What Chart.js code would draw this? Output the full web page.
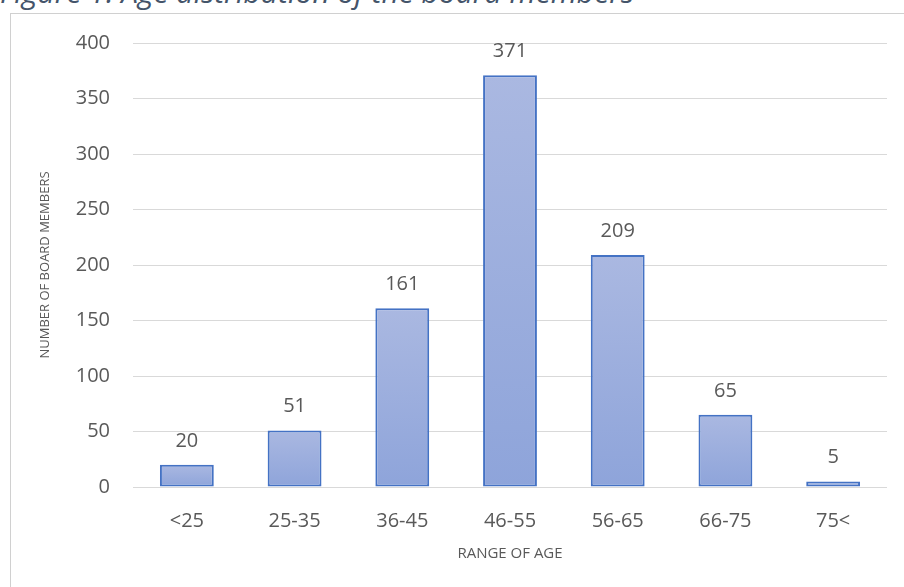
<!DOCTYPE html>
<html>
<head>
<meta charset="utf-8">
<script src="https://cdn.jsdelivr.net/npm/chart.js@4/dist/chart.umd.min.js"></script>
<style>
    html, body { margin: 0; padding: 0; background: #fff; overflow: hidden; }
    #wrap { position: relative; width: 904px; height: 587px; }
    #frame {
        position: absolute; left: 10px; top: 13px; width: 910px; height: 600px;
        border: 1px solid #d0d0d0; box-sizing: border-box;
    }
    #fig-title {
        position: absolute; left: 0; top: -28px; white-space: nowrap;
        font-family: "Open Sans", sans-serif; font-style: italic;
        font-size: 30px; line-height: 1.362; color: #44546A;
    }
    #chart { position: absolute; left: 0; top: 0; }
</style>
</head>
<body>
<div id="wrap">
    <div id="frame"></div>
    <div id="fig-title">Figure 1: Age distribution of the board members</div>
    <canvas id="chart" width="904" height="587"></canvas>
</div>
<script>
// Datos del gráfico
const ageRanges = ['<25', '25-35', '36-45', '46-55', '56-65', '66-75', '75<'];
const boardMembers = [20, 51, 161, 371, 209, 65, 5];
const yTicks = [0, 50, 100, 150, 200, 250, 300, 350, 400];

const FONT = '"Open Sans", sans-serif';
const GREY = '#595959';

// Degradado vertical por barra (más claro arriba)
function barGradient(context) {
    const chart = context.chart;
    const yScale = chart.scales.y;
    if (!yScale || !chart.chartArea) {
        return '#9daedd';
    }
    const value = context.raw || 0;
    const top = yScale.getPixelForValue(value);
    const bottom = yScale.getPixelForValue(0);
    const g = chart.ctx.createLinearGradient(0, top, 0, bottom);
    g.addColorStop(0, '#aab8e1');
    g.addColorStop(1, '#8ea4da');
    return g;
}

// Etiquetas de valor encima de cada barra
const valueLabels = {
    id: 'valueLabels',
    afterDatasetsDraw(chart) {
        const ctx = chart.ctx;
        const meta = chart.getDatasetMeta(0);
        ctx.save();
        ctx.font = '20px ' + FONT;
        ctx.fillStyle = GREY;
        ctx.textAlign = 'center';
        ctx.textBaseline = 'middle';
        meta.data.forEach((bar, i) => {
            ctx.fillText(String(boardMembers[i]), bar.x, bar.y - 24);
        });
        ctx.restore();
    }
};

new Chart(document.getElementById('chart'), {
    type: 'bar',
    data: {
        labels: ageRanges,
        datasets: [{
            data: boardMembers,
            backgroundColor: barGradient,
            borderColor: '#4472c4',
            borderWidth: 2,
            borderSkipped: false,
            categoryPercentage: 1,
            barPercentage: 0.5
        }]
    },
    options: {
        responsive: false,
        animation: false,
        events: [],
        layout: {
            padding: { left: 0, right: 17, top: 43, bottom: 0 }
        },
        plugins: {
            legend: { display: false },
            tooltip: { enabled: false }
        },
        scales: {
            x: {
                grid: { display: false },
                border: { display: false },
                ticks: {
                    color: GREY,
                    font: { family: FONT, size: 20 },
                    padding: 14
                },
                title: {
                    display: true,
                    text: 'RANGE OF AGE',
                    color: GREY,
                    font: { family: FONT, size: 15 },
                    padding: { top: 0, bottom: 24 }
                },
                afterFit(scale) {
                    scale.height = 100;
                }
            },
            y: {
                min: 0,
                max: 400,
                afterBuildTicks(scale) {
                    scale.ticks = yTicks.map(v => ({ value: v }));
                },
                grid: {
                    color: '#d9d9d9',
                    lineWidth: 1,
                    drawTicks: false
                },
                border: { display: false },
                ticks: {
                    color: GREY,
                    font: { family: FONT, size: 20 },
                    padding: 23
                },
                title: {
                    display: true,
                    text: 'NUMBER OF BOARD MEMBERS',
                    color: GREY,
                    font: { family: FONT, size: 13 },
                    padding: { top: 37, bottom: 0 }
                },
                afterFit(scale) {
                    scale.width = 133;
                }
            }
        }
    },
    plugins: [valueLabels]
});
</script>
</body>
</html>
